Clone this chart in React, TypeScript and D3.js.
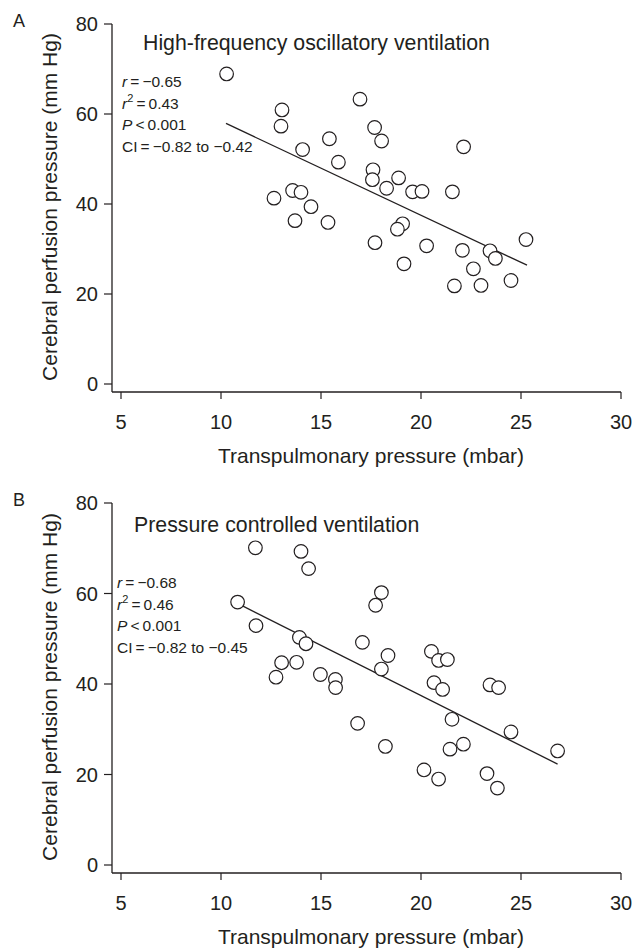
import * as d3 from "d3";

// Panel A – high-frequency oscillatory ventilation
const hfoX = [
  10.28, 13.05, 13.0, 16.95, 17.68, 15.42, 14.08, 18.03, 22.13, 15.87, 17.6, 17.57,
  18.88, 18.28, 19.58, 20.05, 21.57, 13.58, 14.0, 12.65, 14.5, 13.7, 15.35, 19.08,
  18.82, 17.7, 20.28, 19.15, 22.07, 23.45, 23.72, 25.25, 22.62, 21.67, 23.0, 24.5,
];
const hfoY = [
  68.9, 60.9, 57.3, 63.3, 57.0, 54.5, 52.1, 54.0, 52.7, 49.3, 47.6, 45.4,
  45.8, 43.5, 42.7, 42.8, 42.7, 43.0, 42.6, 41.3, 39.4, 36.3, 35.9, 35.6,
  34.4, 31.4, 30.7, 26.7, 29.7, 29.6, 27.9, 32.1, 25.6, 21.8, 21.9, 23.0,
];
const hfoFit = [
  [10.25, 57.9],
  [25.3, 26.4],
];
const hfoStats = ["−0.65", "0.43", "0.001", "−0.82 to −0.42"];

// Panel B – pressure controlled ventilation
const pcvX = [
  11.72, 14.0, 14.38, 10.83, 11.75, 13.92, 14.25, 17.07, 13.03, 13.78, 12.75, 14.97,
  15.72, 15.73, 16.83, 18.02, 17.73, 18.35, 18.02, 20.52, 20.88, 21.32, 20.65, 21.08,
  23.45, 23.88, 21.55, 24.5, 26.83, 18.22, 21.45, 22.12, 20.15, 20.88, 23.3, 23.82,
];
const pcvY = [
  70.1, 69.3, 65.5, 58.1, 52.9, 50.3, 48.9, 49.2, 44.7, 44.8, 41.5, 42.1,
  41.0, 39.2, 31.3, 60.2, 57.4, 46.3, 43.3, 47.2, 45.2, 45.4, 40.3, 38.8,
  39.8, 39.2, 32.2, 29.4, 25.2, 26.2, 25.6, 26.7, 21.0, 19.0, 20.2, 17.0,
];
const pcvFit = [
  [10.83, 57.8],
  [26.83, 22.3],
];
const pcvStats = ["−0.68", "0.46", "0.001", "−0.82 to −0.45"];

const xTicks = [5, 10, 15, 20, 25, 30];
const yTicks = [0, 20, 40, 60, 80];

const FONT = "'Liberation Sans', Arial, Helvetica, sans-serif";
const INK = "#231f20";

type PanelProps = {
  letter: string;
  title: string;
  xs: number[];
  ys: number[];
  fit: number[][];
  stats: string[];
  top: number; // pixel of y = 80
  bottom: number; // pixel of y = 0
  titleX: number;
  titleY: number;
  statsX: number;
  statsY: number;
};

function Panel(p: PanelProps) {
  const x = d3.scaleLinear().domain([5, 30]).range([121, 621]);
  const y = d3.scaleLinear().domain([0, 80]).range([p.bottom, p.top]);
  const axisY = p.bottom + 8;
  const axisX = 112;
  const line = d3
    .line<number[]>()
    .x((d) => x(d[0]))
    .y((d) => y(d[1]));
  const lh = 21.5;

  return (
    <g fontFamily={FONT} fill={INK}>
      <text x={13} y={p.top + 3} fontSize={18}>
        {p.letter}
      </text>

      {/* y axis */}
      <line x1={axisX} x2={axisX} y1={y(80)} y2={axisY} stroke={INK} strokeWidth={1.3} />
      {yTicks.map((t) => (
        <g key={t}>
          <line x1={axisX - 8} x2={axisX} y1={y(t)} y2={y(t)} stroke={INK} strokeWidth={1.2} />
          <text x={axisX - 14} y={y(t)} dy="0.36em" textAnchor="end" fontSize={20}>
            {t}
          </text>
        </g>
      ))}
      <text
        transform={`translate(57,${(y(0) + y(80)) / 2 + 3}) rotate(-90)`}
        textAnchor="middle"
        fontSize={21}
      >
        Cerebral perfusion pressure (mm Hg)
      </text>

      {/* x axis */}
      <line x1={axisX} x2={x(30)} y1={axisY} y2={axisY} stroke={INK} strokeWidth={1.3} />
      {xTicks.map((t) => (
        <g key={t}>
          <line x1={x(t)} x2={x(t)} y1={axisY} y2={axisY + 7} stroke={INK} strokeWidth={1.2} />
          <text x={x(t)} y={axisY + 37} textAnchor="middle" fontSize={20}>
            {t}
          </text>
        </g>
      ))}
      <text x={x(17.5)} y={axisY + 71} textAnchor="middle" fontSize={21}>
        Transpulmonary pressure (mbar)
      </text>

      <text x={p.titleX} y={p.titleY} fontSize={21.3}>
        {p.title}
      </text>

      {/* stats */}
      <g fontSize={15.5}>
        <text x={p.statsX} y={p.statsY}>
          <tspan fontStyle="italic">r</tspan>
          {"\u2009=\u2009" + p.stats[0]}
        </text>
        <text x={p.statsX} y={p.statsY + lh}>
          <tspan fontStyle="italic">r</tspan>
          <tspan fontSize={11} dy={-7}>
            2
          </tspan>
          <tspan dy={7}>{"\u2009=\u2009" + p.stats[1]}</tspan>
        </text>
        <text x={p.statsX} y={p.statsY + 2 * lh}>
          <tspan fontStyle="italic">P</tspan>
          {"\u2009<\u2009" + p.stats[2]}
        </text>
        <text x={p.statsX} y={p.statsY + 3 * lh}>
          {"CI\u2009=\u2009" + p.stats[3]}
        </text>
      </g>

      <path d={line(p.fit) ?? ""} fill="none" stroke={INK} strokeWidth={1.3} />

      {p.xs.map((v, i) => (
        <circle
          key={i}
          cx={x(v)}
          cy={y(p.ys[i])}
          r={6.8}
          fill="white"
          stroke={INK}
          strokeWidth={1.2}
        />
      ))}
    </g>
  );
}

export default function App() {
  return (
    <svg
      width={638}
      height={948}
      viewBox="0 0 638 948"
      style={{ position: "absolute", left: 0, top: 0, background: "white" }}
    >
      <rect width={638} height={948} fill="white" />
      <Panel
        letter="A"
        title="High-frequency oscillatory ventilation"
        xs={hfoX}
        ys={hfoY}
        fit={hfoFit}
        stats={hfoStats}
        top={24}
        bottom={384}
        titleX={143}
        titleY={50}
        statsX={122}
        statsY={87}
      />
      <Panel
        letter="B"
        title="Pressure controlled ventilation"
        xs={pcvX}
        ys={pcvY}
        fit={pcvFit}
        stats={pcvStats}
        top={503}
        bottom={865}
        titleX={134}
        titleY={532}
        statsX={117}
        statsY={588}
      />
    </svg>
  );
}
